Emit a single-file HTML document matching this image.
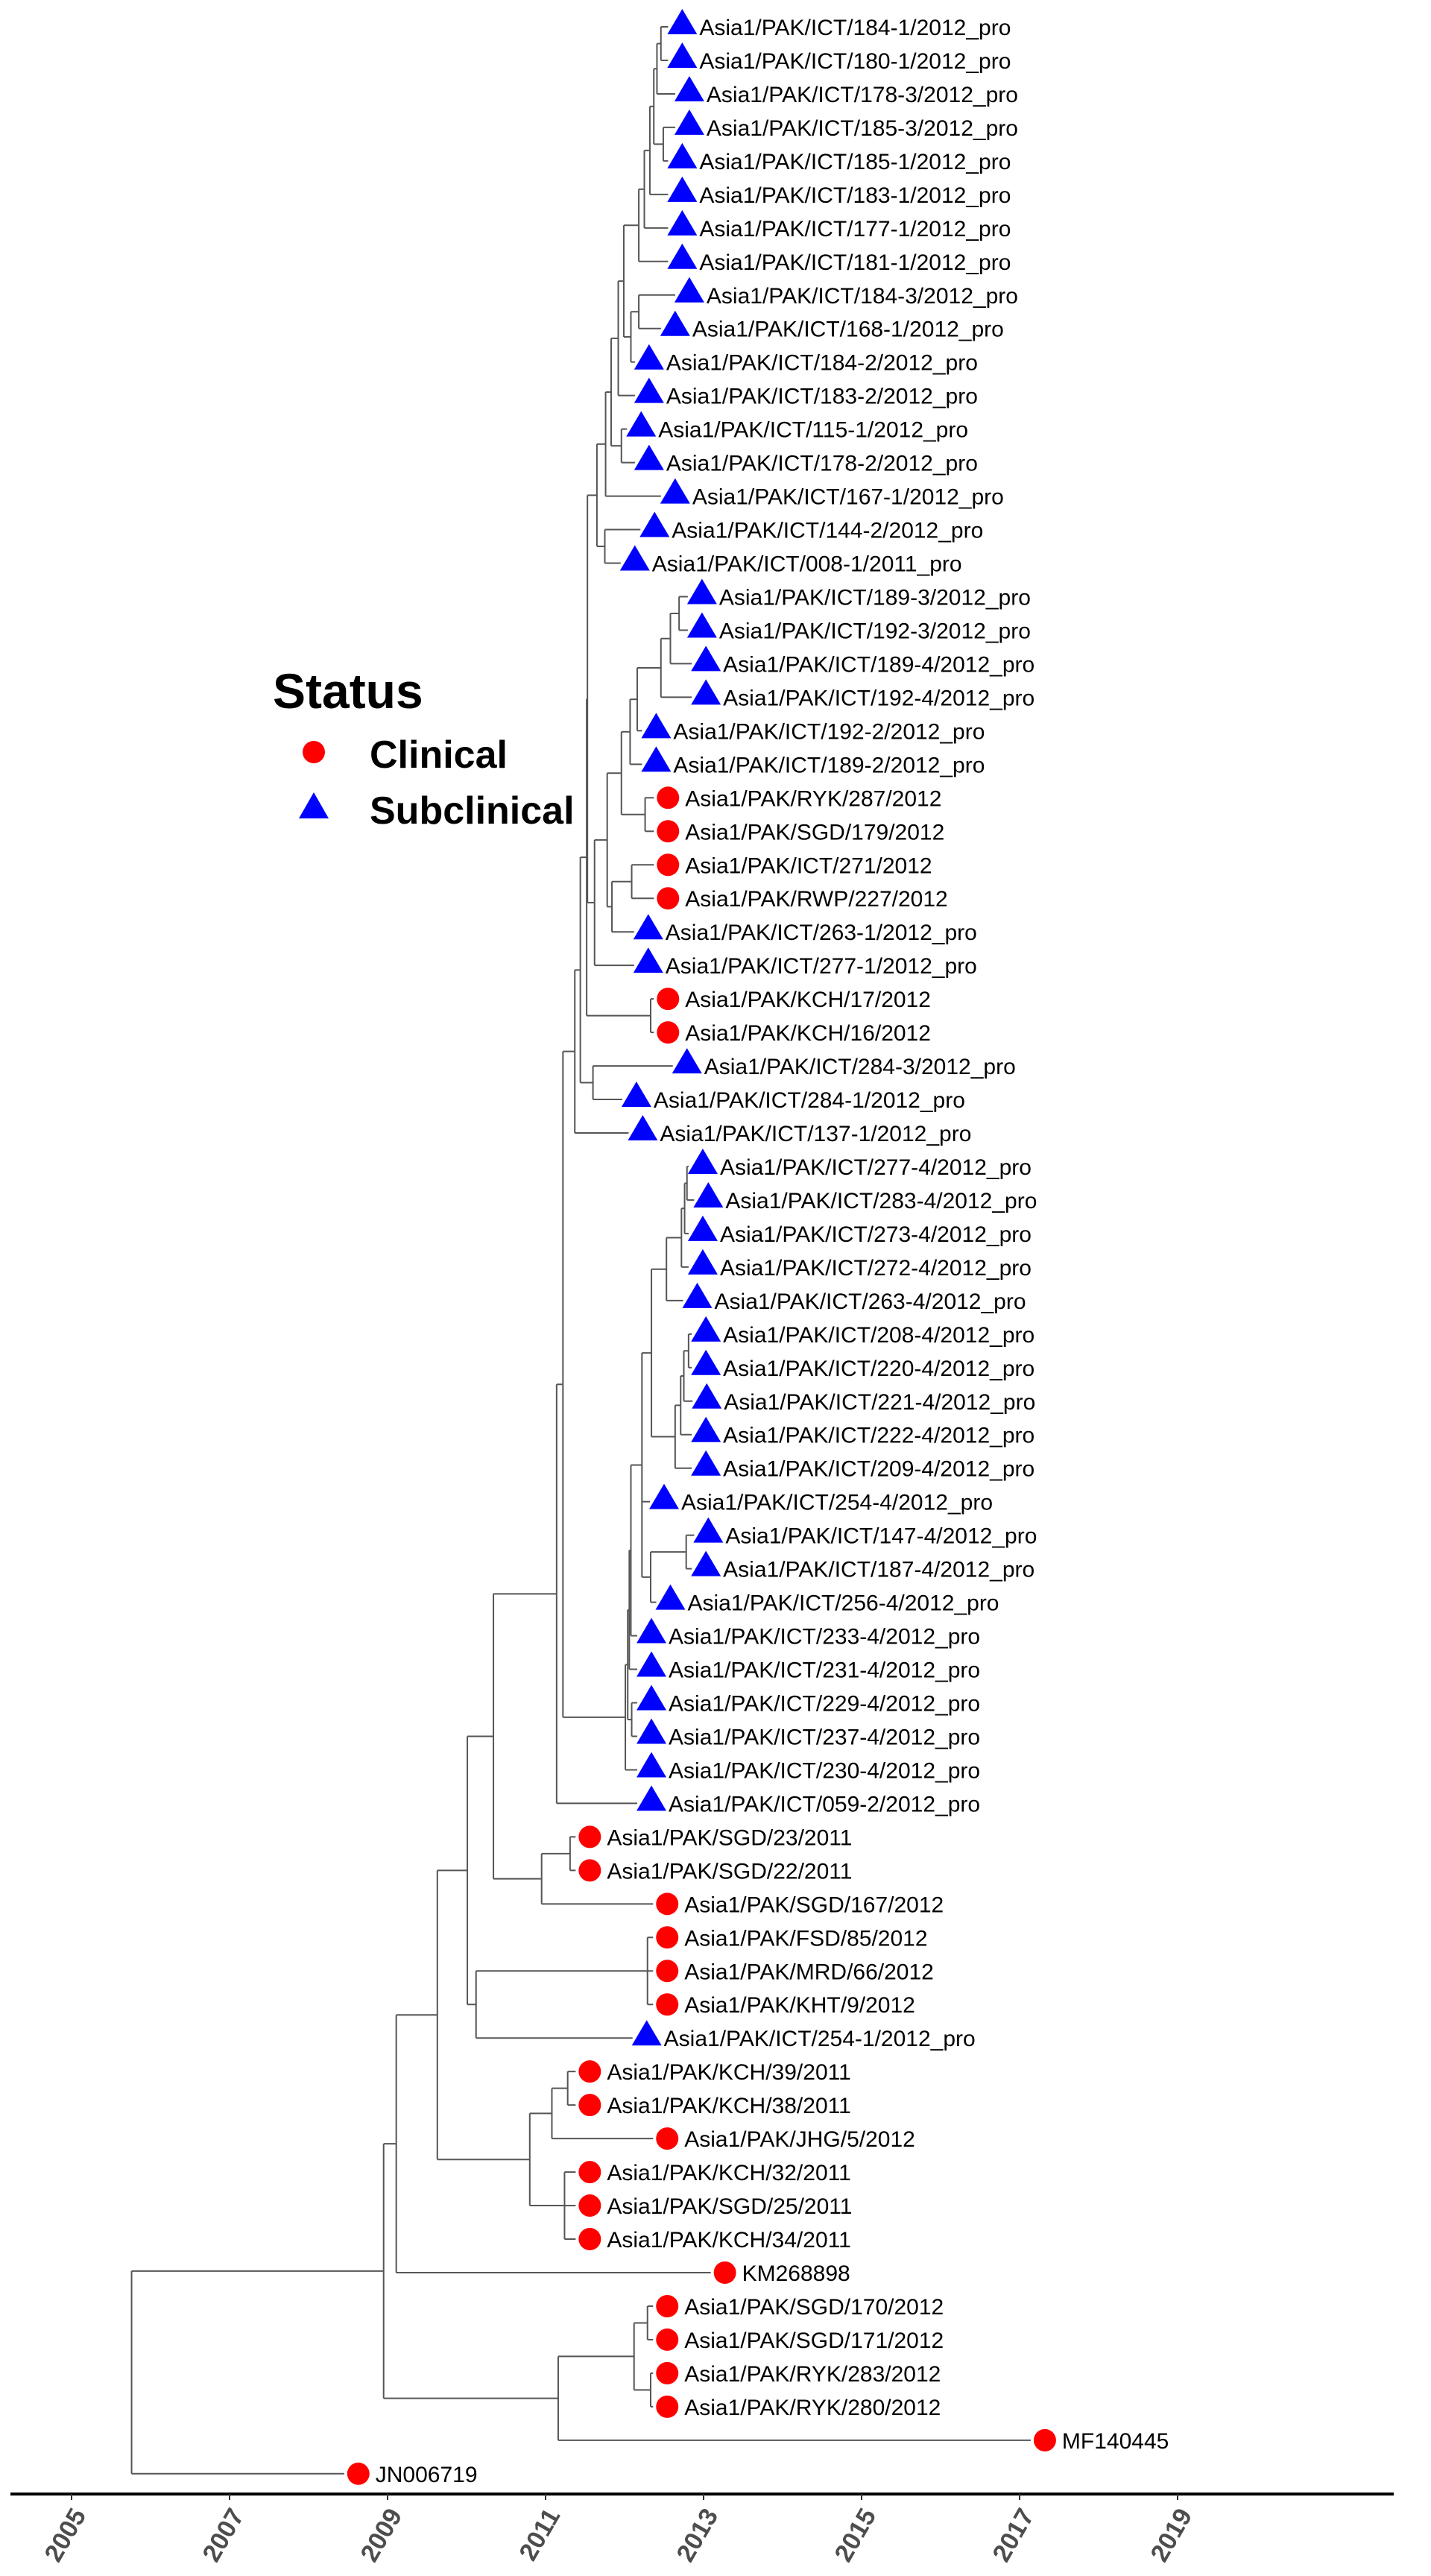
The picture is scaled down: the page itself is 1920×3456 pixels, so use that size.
<!DOCTYPE html>
<html><head><meta charset="utf-8"><style>
html,body{margin:0;padding:0;background:#fff;}
svg{display:block;font-family:"Liberation Sans",Arial,sans-serif;}
</style></head><body>
<svg id="chart" width="1920" height="3456" viewBox="0 0 1920 3456" xmlns="http://www.w3.org/2000/svg">
<g id="branches"></g>
<g id="tips"></g>
<g id="axis"></g>
<g id="legend">
<text x="366" y="950" font-size="66" font-weight="bold" fill="#000">Status</text>
<circle cx="421" cy="1009" r="15" fill="#ff0000"></circle>
<text x="496" y="1030" font-size="52" font-weight="bold" fill="#000">Clinical</text>
<polygon points="401,1098 441,1098 421,1063" fill="#0000ff"></polygon>
<text x="496" y="1105" font-size="52" font-weight="bold" fill="#000">Subclinical</text>
</g>
</svg>
<script>
const tipLabels = ["Asia1/PAK/ICT/184-1/2012_pro","Asia1/PAK/ICT/180-1/2012_pro","Asia1/PAK/ICT/178-3/2012_pro","Asia1/PAK/ICT/185-3/2012_pro","Asia1/PAK/ICT/185-1/2012_pro","Asia1/PAK/ICT/183-1/2012_pro","Asia1/PAK/ICT/177-1/2012_pro","Asia1/PAK/ICT/181-1/2012_pro","Asia1/PAK/ICT/184-3/2012_pro","Asia1/PAK/ICT/168-1/2012_pro","Asia1/PAK/ICT/184-2/2012_pro","Asia1/PAK/ICT/183-2/2012_pro","Asia1/PAK/ICT/115-1/2012_pro","Asia1/PAK/ICT/178-2/2012_pro","Asia1/PAK/ICT/167-1/2012_pro","Asia1/PAK/ICT/144-2/2012_pro","Asia1/PAK/ICT/008-1/2011_pro","Asia1/PAK/ICT/189-3/2012_pro","Asia1/PAK/ICT/192-3/2012_pro","Asia1/PAK/ICT/189-4/2012_pro","Asia1/PAK/ICT/192-4/2012_pro","Asia1/PAK/ICT/192-2/2012_pro","Asia1/PAK/ICT/189-2/2012_pro","Asia1/PAK/RYK/287/2012","Asia1/PAK/SGD/179/2012","Asia1/PAK/ICT/271/2012","Asia1/PAK/RWP/227/2012","Asia1/PAK/ICT/263-1/2012_pro","Asia1/PAK/ICT/277-1/2012_pro","Asia1/PAK/KCH/17/2012","Asia1/PAK/KCH/16/2012","Asia1/PAK/ICT/284-3/2012_pro","Asia1/PAK/ICT/284-1/2012_pro","Asia1/PAK/ICT/137-1/2012_pro","Asia1/PAK/ICT/277-4/2012_pro","Asia1/PAK/ICT/283-4/2012_pro","Asia1/PAK/ICT/273-4/2012_pro","Asia1/PAK/ICT/272-4/2012_pro","Asia1/PAK/ICT/263-4/2012_pro","Asia1/PAK/ICT/208-4/2012_pro","Asia1/PAK/ICT/220-4/2012_pro","Asia1/PAK/ICT/221-4/2012_pro","Asia1/PAK/ICT/222-4/2012_pro","Asia1/PAK/ICT/209-4/2012_pro","Asia1/PAK/ICT/254-4/2012_pro","Asia1/PAK/ICT/147-4/2012_pro","Asia1/PAK/ICT/187-4/2012_pro","Asia1/PAK/ICT/256-4/2012_pro","Asia1/PAK/ICT/233-4/2012_pro","Asia1/PAK/ICT/231-4/2012_pro","Asia1/PAK/ICT/229-4/2012_pro","Asia1/PAK/ICT/237-4/2012_pro","Asia1/PAK/ICT/230-4/2012_pro","Asia1/PAK/ICT/059-2/2012_pro","Asia1/PAK/SGD/23/2011","Asia1/PAK/SGD/22/2011","Asia1/PAK/SGD/167/2012","Asia1/PAK/FSD/85/2012","Asia1/PAK/MRD/66/2012","Asia1/PAK/KHT/9/2012","Asia1/PAK/ICT/254-1/2012_pro","Asia1/PAK/KCH/39/2011","Asia1/PAK/KCH/38/2011","Asia1/PAK/JHG/5/2012","Asia1/PAK/KCH/32/2011","Asia1/PAK/SGD/25/2011","Asia1/PAK/KCH/34/2011","KM268898","Asia1/PAK/SGD/170/2012","Asia1/PAK/SGD/171/2012","Asia1/PAK/RYK/283/2012","Asia1/PAK/RYK/280/2012","MF140445","JN006719"];
const statusRuns = [["S",23],["C",4],["S",2],["C",2],["S",23],["C",6],["S",1],["C",13]];
const tipDates = [2012.73,2012.73,2012.82,2012.82,2012.73,2012.73,2012.73,2012.73,2012.82,2012.64,2012.31,2012.31,2012.21,2012.31,2012.64,2012.38,2012.13,2012.98,2012.98,2013.03,2013.03,2012.40,2012.40,2012.55,2012.55,2012.55,2012.55,2012.30,2012.30,2012.55,2012.55,2012.79,2012.15,2012.23,2012.99,2013.06,2012.99,2012.99,2012.92,2013.03,2013.03,2013.04,2013.03,2013.03,2012.50,2013.06,2013.03,2012.58,2012.34,2012.34,2012.34,2012.34,2012.34,2012.34,2011.56,2011.56,2012.54,2012.54,2012.54,2012.54,2012.28,2011.56,2011.56,2012.54,2011.56,2011.56,2011.56,2013.27,2012.54,2012.54,2012.54,2012.54,2017.32,2008.63];
const cladeTop17 = "(((((((((((1,2):2012.46,3):2012.41,(4,5):2012.49):2012.37,6):2012.32,7):2012.25,8):2012.18,((9,10):2012.18,11):2012.08):2011.99,12):2011.92,(13,14):2011.96):2011.83,15):2011.76,(16,17):2011.75):2011.65";
const cladeM29 = "((((((((18,19):2012.69,20):2012.58,21):2012.46,22):2012.16,23):2012.07,(24,25):2012.26):2011.96,((26,27):2012.09,28):2011.84):2011.78,29):2011.62";
const cladeUpper = "((((" + cladeTop17 + "," + cladeM29 + "):2011.53,(30,31):2012.33):2011.52,(32,33):2011.60):2011.44,34):2011.37";
const cladeMid = "((((((((((35,36):2012.79,37):2012.76,38):2012.72,39):2012.53,((((40,41):2012.81,42):2012.75,43):2012.71,44):2012.64):2012.34,45,((46,47):2012.78,48):2012.33):2012.22,49):2012.08,50):2012.06,(51,52):2012.09):2012.04,53):2012.01";
const treeNewick = "((((((((" + cladeUpper + "," + cladeMid + "):2011.22,54):2011.14,((55,56):2011.31,57):2010.95):2010.34,((58,59,60):2012.29,61):2010.12):2010.01,(((62,63):2011.28,64):2011.08,(65,66,67):2011.24):2010.80):2009.63,68):2009.11,(((69,70):2012.29,(71,72):2012.33):2012.12,73):2011.16):2008.95,74):2005.76";
const axisYears = [2005,2007,2009,2011,2013,2015,2017,2019];

const tipStatus = [];
statusRuns.forEach(r => { for (let k = 0; k < r[1]; k++) tipStatus.push(r[0]); });

const NS = "http://www.w3.org/2000/svg";
const X0 = 96, PXY = 106, Y0 = 36, DY = 44.97, AXY = 3346, LINE_OFF = 19;
function xScale(yr){ return X0 + (yr - 2005) * PXY; }
function yScale(i){ return Y0 + i * DY; }

let pos = 0;
function parseNode(){
  const s = treeNewick;
  if (s[pos] === '(') {
    pos++;
    const children = [];
    while (true) {
      children.push(parseNode());
      if (s[pos] === ',') { pos++; continue; }
      if (s[pos] === ')') { pos++; break; }
      break;
    }
    let date = null;
    if (s[pos] === ':') { pos++; let st = pos; while (pos < s.length && /[0-9.]/.test(s[pos])) pos++; date = parseFloat(s.slice(st,pos)); }
    return {children, date};
  } else {
    let st = pos; while (/[0-9]/.test(s[pos])) pos++;
    const idx = parseInt(s.slice(st,pos),10) - 1;
    return {tip: idx, date: tipDates[idx]};
  }
}
const root = parseNode();
const gB = document.getElementById('branches');
function mk(tag, attrs, parent){ const e = document.createElementNS(NS, tag); for (const k in attrs) e.setAttribute(k, attrs[k]); parent.appendChild(e); return e; }
function layout(n){
  if (n.children) {
    n.children.forEach(layout);
    const ys = n.children.map(c => c.y);
    n.y = (Math.min(...ys) + Math.max(...ys)) / 2;
    n.x = xScale(n.date);
  } else {
    n.y = yScale(n.tip);
    n.x = xScale(n.date) - LINE_OFF;
  }
}
layout(root);
function draw(n){
  if (!n.children) return;
  const ys = n.children.map(c => c.y);
  const v = mk('line', {x1:n.x, x2:n.x, y1:Math.min(...ys), y2:Math.max(...ys), stroke:'#555', 'stroke-width':2}, gB);
  
  
  n.children.forEach(c => {
    const h = mk('line', {x1:n.x, x2:c.x, y1:c.y, y2:c.y, stroke:'#555', 'stroke-width':2}, gB);
    
    
    draw(c);
  });
}
draw(root);

const gT = document.getElementById('tips');
tipLabels.forEach((lab, i) => {
  const cx = xScale(tipDates[i]), cy = yScale(i);
  let m;
  if (tipStatus[i] === 'C') {
    m = mk('circle', {cx:cx, cy:cy, r:15, fill:'#ff0000'}, gT);
    
  } else {
    m = mk('polygon', {points:(cx-20)+','+(cy+10)+' '+(cx+20)+','+(cy+10)+' '+cx+','+(cy-24), fill:'#0000ff'}, gT);
    
  }
  
  const t = mk('text', {x:cx+23, y:cy+11, 'font-size':30, fill:'#000'}, gT);
  t.textContent = lab;
  
  
});

const gA = document.getElementById('axis');
const al = mk('line', {x1:14, x2:1870, y1:AXY, y2:AXY, stroke:'#000', 'stroke-width':4}, gA);


axisYears.forEach(yr => {
  const x = xScale(yr);
  const tk = mk('line', {x1:x, x2:x, y1:AXY, y2:AXY+8, stroke:'#333', 'stroke-width':2}, gA);
  
  
  const tx = mk('text', {x:0, y:0, 'font-size':34, 'font-weight':'bold', fill:'#4d4d4d', 'text-anchor':'end', transform:'translate('+(x+10)+','+(AXY+22)+') rotate(-60)', dy:'0.35em'}, gA);
  tx.textContent = String(yr);
  
  
});
</script>
</body></html>
